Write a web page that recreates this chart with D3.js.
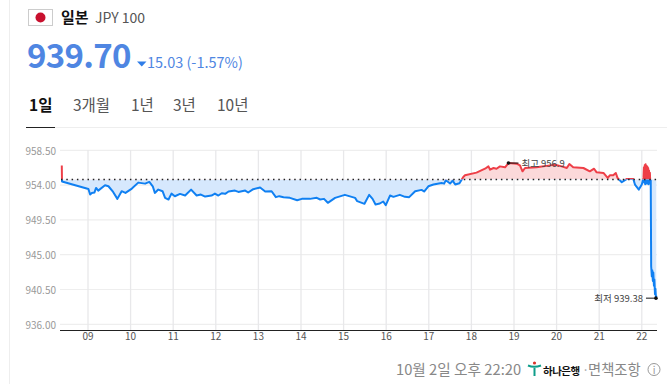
<!DOCTYPE html>
<html><head><meta charset="utf-8">
<script src="https://cdn.jsdelivr.net/npm/d3@7"></script>
<style>html,body{margin:0;padding:0;background:#fff;overflow:hidden}svg{display:block}text{font-family:"Noto Sans CJK KR","Noto Sans",sans-serif}</style>
</head><body><svg id="c" width="667" height="384"></svg>
<script>
const yTicks=[958.5,954,949.5,945,940.5,936];
const xHours=[9,10,11,12,13,14,15,16,17,18,19,20,21,22];
const tabs=["1일","3개월","1년","3년","10년"];
const baseValue=954.73, highValue=956.9, lowValue=939.38;
const times=[8.385,8.39,9.01,9.05,9.09,9.15,9.19,9.24,9.40,9.48,9.59,9.69,9.79,9.88,10.03,10.18,10.34,10.44,10.52,10.57,10.65,10.75,10.81,10.89,10.96,11.04,11.16,11.28,11.42,11.55,11.65,11.75,11.90,11.98,12.06,12.14,12.22,12.30,12.45,12.53,12.69,12.76,12.88,13.04,13.16,13.31,13.41,13.49,13.59,13.74,13.91,14.02,14.21,14.37,14.45,14.54,14.63,14.80,15.03,15.27,15.32,15.49,15.60,15.68,15.75,15.85,15.93,15.99,16.09,16.17,16.32,16.44,16.54,16.68,16.83,16.89,16.99,17.11,17.30,17.36,17.40,17.50,17.56,17.62,17.72,17.81,17.85,18.12,18.32,18.40,18.44,18.52,18.59,18.67,18.79,18.87,19.06,19.14,19.20,19.26,19.53,19.85,19.96,20.12,20.24,20.30,20.39,20.63,20.78,20.88,20.94,21.10,21.20,21.25,21.33,21.39,21.43,21.53,21.65,21.80,21.84,21.93,22.00,22.04,22.05,22.06,22.07,22.08,22.09,22.10,22.11,22.12,22.13,22.14,22.15,22.16,22.17,22.18,22.19,22.20,22.21,22.22,22.235,22.245,22.26,22.27,22.285,22.295,22.31,22.32,22.333,22.34];
const values=[956.53,954.47,953.50,952.78,952.99,953.03,953.63,953.29,953.98,953.85,953.12,952.22,953.21,952.99,953.55,954.32,954.19,954.41,953.85,952.99,953.42,953.21,952.35,952.13,952.90,952.56,952.86,952.65,953.42,952.65,952.78,952.52,952.65,952.90,952.65,952.95,952.87,953.17,953.29,953.12,953.29,953.04,953.47,953.68,953.17,953.21,952.44,952.57,952.44,952.35,952.05,952.22,952.22,952.35,952.14,952.22,951.71,952.35,952.74,952.35,951.92,951.58,952.74,952.22,951.50,951.62,951.88,951.41,952.65,952.48,952.74,952.48,952.44,953.21,953.38,953.17,953.85,954.07,954.28,954.19,954.62,954.20,954.58,954.07,954.24,955.05,955.27,955.61,956.12,956.42,955.99,956.21,956.12,956.42,956.30,956.85,956.77,956.55,955.78,956.21,956.30,956.55,956.64,956.42,956.21,956.72,956.30,956.21,955.78,956.12,955.65,955.57,954.93,955.27,955.27,955.57,954.93,954.37,954.80,954.80,954.07,953.42,954.07,954.93,956.30,954.30,956.60,954.10,956.70,954.40,956.50,954.20,956.40,954.30,956.20,954.10,955.90,954.50,955.60,954.30,954.60,943.50,942.20,943.00,941.60,942.70,941.00,941.80,939.90,940.60,939.38,939.70];

const svg=d3.select("#c");
const data=times.map((t,i)=>({t,v:values[i]}));
const x=d3.scaleLinear().domain([8.343,22.357]).range([60,657]);
const y=d3.scaleLinear().domain([936,958.5]).range([324.3,150.3]);
const by=y(baseValue);

// page frame + header
svg.append("line").attr("x1",9.5).attr("x2",9.5).attr("y1",0).attr("y2",384).attr("stroke","#eeeeee");
svg.append("rect").attr("x",28.5).attr("y",9.5).attr("width",24).attr("height",16).attr("fill","#fff").attr("stroke","#cccccc");
svg.append("circle").attr("cx",40.5).attr("cy",17.5).attr("r",5).attr("fill","#c8102e");
svg.append("text").attr("x",61).attr("y",23).attr("font-size",15).attr("font-weight",700).attr("fill","#111").text("일본");
svg.append("text").attr("x",95).attr("y",23).attr("font-size",14).attr("fill","#555").text("JPY 100");
svg.append("text").attr("x",27).attr("y",68).attr("font-size",33).attr("font-weight",700).attr("letter-spacing",-0.7).attr("fill","#4f86e2").text("939.70");
svg.append("path").attr("d","M137 61.5h9.5l-4.75 5z").attr("fill","#2f7de8");
svg.append("text").attr("x",147).attr("y",68).attr("font-size",14.5).attr("fill","#4f86e2").text("15.03 (-1.57%)");

const tabX=[29,73,131,173,217];
tabs.forEach((s,i)=>svg.append("text").attr("x",tabX[i]).attr("y",111).attr("font-size",15.5)
  .attr("font-weight",i==0?700:400).attr("fill",i==0?"#111":"#555").text(s));
svg.append("line").attr("x1",26).attr("x2",667).attr("y1",127.5).attr("y2",127.5).attr("stroke","#eeeeee");
svg.append("line").attr("x1",26).attr("x2",55).attr("y1",127.5).attr("y2",127.5).attr("stroke","#222");

// grid
svg.append("g").selectAll("line").data(yTicks).join("line")
  .attr("x1",60).attr("x2",657).attr("y1",d=>y(d)).attr("y2",d=>y(d)).attr("stroke","#eeeeee").attr("stroke-width",1.2);
svg.append("g").selectAll("line").data(xHours).join("line")
  .attr("x1",d=>x(d)).attr("x2",d=>x(d)).attr("y1",150).attr("y2",330).attr("stroke","#e8e8ea").attr("stroke-width",1.3);

// axes
const ax=svg.append("g").attr("transform","translate(-0.5,330)")
  .call(d3.axisBottom(x).tickValues(xHours).tickSize(0).tickPadding(3).tickFormat(d=>String(d).padStart(2,"0")));
ax.select(".domain").attr("stroke","#222").attr("stroke-width",1.2);
ax.selectAll("text").attr("font-size",10).attr("fill","#555").attr("font-family",'"Noto Sans CJK KR"');
const ay=svg.append("g").attr("transform","translate(56,0.5)")
  .call(d3.axisLeft(y).tickValues(yTicks).tickSize(0).tickPadding(0).tickFormat(d3.format(".2f")));
ay.select(".domain").remove();
ay.selectAll("text").attr("font-size",10).attr("fill","#999").attr("font-family",'"Noto Sans CJK KR"');

// clip regions split at the previous-close line
const defs=svg.append("defs");
defs.append("clipPath").attr("id","up").append("rect").attr("x",55).attr("y",140).attr("width",610).attr("height",by-140);
defs.append("clipPath").attr("id","dn").append("rect").attr("x",55).attr("y",by).attr("width",610).attr("height",200);

const area=d3.area().x(d=>x(d.t)).y0(by).y1(d=>y(d.v));
const line=d3.line().x(d=>x(d.t)).y(d=>y(d.v));
[["up","#fbd9da","#ee3f48"],["dn","#d6e8fd","#1080f2"]].forEach(([id,fill,stroke])=>{
  const g=svg.append("g").attr("clip-path",`url(#${id})`);
  g.append("path").datum(data).attr("d",area).attr("fill",fill);
  g.append("path").datum(data).attr("d",line).attr("fill","none").attr("stroke",stroke).attr("stroke-width",2).attr("stroke-linejoin","round");
});

// previous close
svg.append("line").attr("x1",61).attr("x2",657).attr("y1",by).attr("y2",by)
  .attr("stroke","#222").attr("stroke-width",1.5).attr("stroke-dasharray","1.5 3.8");

// high / low callouts
const hiT=18.87, loT=22.333;
const hy=y(956.85), ly=y(lowValue);
svg.append("line").attr("x1",x(hiT)).attr("x2",x(hiT)+10).attr("y1",hy).attr("y2",hy).attr("stroke","#111");
svg.append("circle").attr("cx",x(hiT)).attr("cy",hy).attr("r",1.8).attr("fill","#111");
svg.append("text").attr("x",x(hiT)+13).attr("y",hy+4).attr("font-size",9.5).attr("fill","#444").text("최고 "+highValue);
svg.append("line").attr("x1",x(loT)-10).attr("x2",x(loT)).attr("y1",ly).attr("y2",ly).attr("stroke","#111");
svg.append("circle").attr("cx",x(loT)).attr("cy",ly).attr("r",1.8).attr("fill","#111");
svg.append("text").attr("x",x(loT)-13).attr("y",ly+4).attr("text-anchor","end").attr("font-size",9.5).attr("fill","#444").text("최저 "+lowValue);

// footer
svg.append("text").attr("x",396).attr("y",375).attr("font-size",14.7).attr("fill","#888").text("10월 2일 오후 22:20");
const logo=svg.append("g");
logo.append("path").attr("d","M528 365.5q6 2.5 13 0M534.5 368v8").attr("fill","none").attr("stroke","#0f9d8a").attr("stroke-width",2);
logo.append("circle").attr("cx",534.5).attr("cy",363).attr("r",1.6).attr("fill","#d9342b");
svg.append("text").attr("x",543).attr("y",374.5).attr("font-size",10.5).attr("font-weight",700).attr("fill","#111").attr("letter-spacing",-0.5).text("하나은행");
svg.append("text").attr("x",582).attr("y",375).attr("font-size",13).attr("fill","#aaa").text("·");
svg.append("text").attr("x",588).attr("y",375).attr("font-size",14.3).attr("fill","#888").text("면책조항");
svg.append("circle").attr("cx",654).attr("cy",369.5).attr("r",6).attr("fill","none").attr("stroke","#999");
svg.append("text").attr("x",654).attr("y",373.5).attr("text-anchor","middle").attr("font-size",10).attr("fill","#999").text("i");
</script></body></html>
